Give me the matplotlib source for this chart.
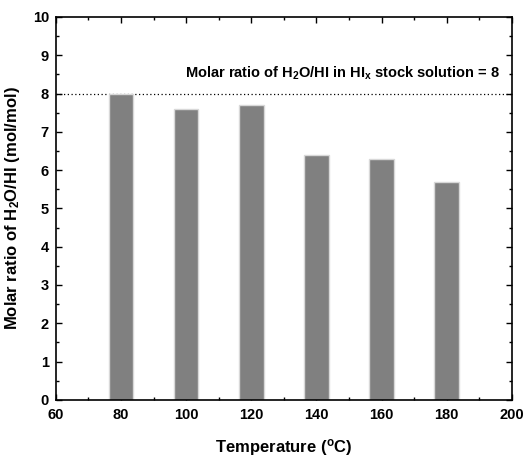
import matplotlib
matplotlib.use("Agg")
import matplotlib.pyplot as plt
from matplotlib.ticker import MultipleLocator

temps = [80, 100, 120, 140, 160, 180]
ratios = [8.0, 7.6, 7.7, 6.4, 6.3, 5.7]
stock_ratio = 8

plt.rcParams['font.family'] = ['Liberation Sans', 'DejaVu Sans']
plt.rcParams['font.weight'] = 'bold'
plt.rcParams['mathtext.fontset'] = 'custom'
plt.rcParams['mathtext.rm'] = 'Liberation Sans:bold'
plt.rcParams['mathtext.it'] = 'Liberation Sans:bold'
plt.rcParams['mathtext.bf'] = 'Liberation Sans:bold'

fig = plt.figure(figsize=(5.32, 4.58), dpi=100)
ax = fig.add_axes([0.105, 0.127, 0.857, 0.836])

ax.bar(temps, ratios, width=7.6, color='#808080', edgecolor='#d8d8d8', linewidth=1.0, zorder=2)
ax.axhline(stock_ratio, color='black', linestyle=(0, (1, 2)), linewidth=0.9, zorder=1)
ax.text(196.5, stock_ratio + 0.3, r'Molar ratio of H$_2$O/HI in HI$_x$ stock solution = 8',
        ha='right', va='bottom', fontsize=10.5, fontweight='bold')

ax.set_xlim(60, 200)
ax.set_ylim(0, 10)
ax.xaxis.set_major_locator(MultipleLocator(20))
ax.xaxis.set_minor_locator(MultipleLocator(10))
ax.yaxis.set_major_locator(MultipleLocator(1))
ax.yaxis.set_minor_locator(MultipleLocator(0.5))
ax.tick_params(which='both', direction='in', top=True, right=True, labelsize=10.5, width=1)
ax.tick_params(which='major', length=4.5)
ax.tick_params(which='minor', length=2.5)
ax.tick_params(axis='x', which='major', pad=6)
ax.tick_params(axis='y', which='major', pad=5)
for s in ax.spines.values():
    s.set_linewidth(1.2)
for lab in ax.get_xticklabels() + ax.get_yticklabels():
    lab.set_fontweight('bold')

ax.set_xlabel(r'Temperature ($^\mathregular{o}$C)', fontsize=12, fontweight='bold', labelpad=11)
ax.set_ylabel(r'Molar ratio of H$_2$O/HI (mol/mol)', fontsize=12, fontweight='bold', labelpad=8)

fig.savefig('out.png', dpi=100)
